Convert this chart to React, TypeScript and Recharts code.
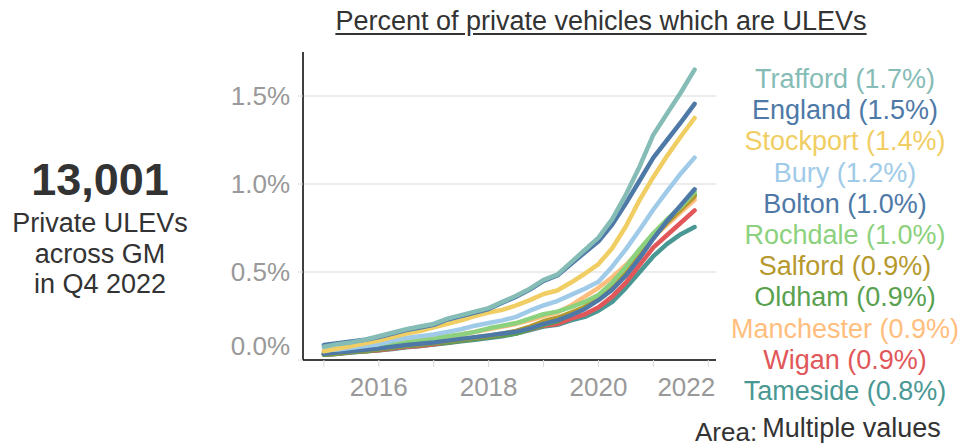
import { CartesianGrid, Line, LineChart, XAxis, YAxis } from "recharts";

// quarterly points, start of 2015 to Q4 2021 on the time axis
const quarters = [
  2015, 2015.25, 2015.5, 2015.75, 2016, 2016.25, 2016.5, 2016.75,
  2017, 2017.25, 2017.5, 2017.75, 2018, 2018.25, 2018.5, 2018.75,
  2019, 2019.25, 2019.5, 2019.75, 2020, 2020.25, 2020.5, 2020.75,
  2021, 2021.25, 2021.5, 2021.75,
];

// percent of private vehicles which are ULEVs
const trafford = [
  0.075, 0.09, 0.1, 0.115, 0.135, 0.155, 0.175, 0.19, 0.205, 0.235, 0.255, 0.275, 0.295, 0.33,
  0.365, 0.405, 0.455, 0.485, 0.555, 0.625, 0.695, 0.8, 0.94, 1.1, 1.28, 1.4, 1.52, 1.65,
];
const england = [
  0.085, 0.095, 0.105, 0.115, 0.13, 0.15, 0.17, 0.185, 0.2, 0.23, 0.25, 0.27, 0.29, 0.325,
  0.36, 0.4, 0.45, 0.48, 0.545, 0.61, 0.675, 0.77, 0.89, 1.02, 1.15, 1.25, 1.35, 1.455,
];
const stockport = [
  0.05, 0.065, 0.08, 0.095, 0.11, 0.13, 0.15, 0.165, 0.185, 0.205, 0.225, 0.25, 0.27, 0.285,
  0.31, 0.34, 0.375, 0.395, 0.44, 0.49, 0.545, 0.635, 0.76, 0.91, 1.04, 1.16, 1.27, 1.375,
];
const bury = [
  0.055, 0.06, 0.07, 0.08, 0.09, 0.11, 0.125, 0.135, 0.145, 0.16, 0.175, 0.195, 0.21, 0.225,
  0.245, 0.28, 0.31, 0.335, 0.37, 0.405, 0.445, 0.53, 0.63, 0.74, 0.855, 0.96, 1.06, 1.15,
];
const bolton = [
  0.035, 0.042, 0.05, 0.058, 0.065, 0.075, 0.085, 0.092, 0.1, 0.11, 0.12, 0.13, 0.14, 0.15,
  0.16, 0.18, 0.205, 0.225, 0.255, 0.29, 0.34, 0.4, 0.48, 0.58, 0.69, 0.79, 0.88, 0.97,
];
const rochdale = [
  0.04, 0.05, 0.06, 0.07, 0.08, 0.09, 0.1, 0.11, 0.12, 0.135, 0.145, 0.16, 0.18, 0.195,
  0.21, 0.235, 0.26, 0.275, 0.3, 0.33, 0.37, 0.44, 0.53, 0.63, 0.72, 0.8, 0.87, 0.955,
];
const salford = [
  0.035, 0.04, 0.048, 0.055, 0.062, 0.072, 0.082, 0.09, 0.098, 0.108, 0.118, 0.128, 0.138, 0.15,
  0.165, 0.19, 0.22, 0.24, 0.27, 0.3, 0.35, 0.42, 0.51, 0.61, 0.7, 0.78, 0.855, 0.93,
];
const oldham = [
  0.03, 0.035, 0.045, 0.05, 0.06, 0.07, 0.08, 0.085, 0.095, 0.1, 0.11, 0.12, 0.13, 0.14,
  0.15, 0.175, 0.2, 0.22, 0.26, 0.3, 0.355, 0.43, 0.52, 0.62, 0.71, 0.79, 0.865, 0.94,
];
const manchester = [
  0.045, 0.055, 0.065, 0.075, 0.085, 0.095, 0.105, 0.115, 0.125, 0.135, 0.145, 0.16, 0.175, 0.19,
  0.205, 0.225, 0.25, 0.27, 0.31, 0.36, 0.41, 0.47, 0.54, 0.62, 0.7, 0.77, 0.84, 0.91,
];
const wigan = [
  0.03, 0.035, 0.045, 0.05, 0.055, 0.065, 0.075, 0.08, 0.09, 0.1, 0.11, 0.12, 0.13, 0.14,
  0.155, 0.175, 0.195, 0.205, 0.235, 0.26, 0.3, 0.36, 0.44, 0.54, 0.64, 0.71, 0.78, 0.85,
];
const tameside = [
  0.03, 0.035, 0.042, 0.05, 0.055, 0.063, 0.072, 0.08, 0.088, 0.097, 0.106, 0.115, 0.125, 0.135,
  0.15, 0.17, 0.19, 0.2, 0.225, 0.245, 0.28, 0.33, 0.41, 0.5, 0.59, 0.66, 0.715, 0.755,
];

const areas = [
  "Trafford", "England", "Stockport", "Bury", "Bolton", "Rochdale",
  "Salford", "Oldham", "Manchester", "Wigan", "Tameside",
];
const latestLabels = [
  "1.7%", "1.5%", "1.4%", "1.2%", "1.0%", "1.0%", "0.9%", "0.9%", "0.9%", "0.9%", "0.8%",
];
const seriesValues = [
  trafford, england, stockport, bury, bolton, rochdale,
  salford, oldham, manchester, wigan, tameside,
];
const colors = [
  "#86bcb6", "#4e79a7", "#f1ce63", "#a0cbe8", "#4e79a7", "#8cd17d",
  "#b6992d", "#59a14f", "#ffbe7d", "#e15759", "#499894",
];

const yTicks = [0, 0.5, 1, 1.5];
const yearTicks = [2015, 2016, 2017, 2018, 2019, 2020, 2021, 2022];

const rows = quarters.map((q, i) => {
  const row: Record<string, number> = { q };
  areas.forEach((a, k) => {
    row[a] = seriesValues[k][i];
  });
  return row;
});

const font = '"Liberation Sans", Arial, sans-serif';

function YTick({ x, y, payload }: any) {
  // Tableau nudges the bottom label up so it stays clear of the axis
  const lift = payload.value === 0 ? 14 : 0;
  return (
    <text x={x} y={y - lift} dy="0.36em" textAnchor="end" fill="#999" fontSize={26} fontFamily={font}>
      {payload.value.toFixed(1)}%
    </text>
  );
}

function XTick({ x, y, payload }: any) {
  const v = payload.value;
  if (v % 2 !== 0) return <g />;
  const shift = v === 2022 ? -22 : 0;
  return (
    <text x={x + shift} y={y} dy="0.72em" textAnchor="middle" fill="#999" fontSize={26} fontFamily={font}>
      {v}
    </text>
  );
}

export default function App() {
  // draw bottom of legend first so Trafford sits on top
  const order = areas.map((_, i) => areas.length - 1 - i);
  return (
    <div
      style={{
        position: "absolute",
        left: 0,
        top: 0,
        width: 960,
        height: 446,
        background: "#fff",
        fontFamily: font,
        color: "#333",
      }}
    >
      <div
        style={{
          position: "absolute",
          left: 301,
          top: 6,
          width: 600,
          textAlign: "center",
          fontSize: 27,
          lineHeight: "31px",
          textDecoration: "underline",
          textUnderlineOffset: 3,
        }}
      >
        Percent of private vehicles which are ULEVs
      </div>

      <div
        style={{
          position: "absolute",
          left: 0,
          top: 156,
          width: 200,
          textAlign: "center",
          fontSize: 27,
          lineHeight: "30.5px",
        }}
      >
        <div style={{ fontSize: 45, fontWeight: 700, lineHeight: "48px", marginBottom: 4 }}>13,001</div>
        <div>Private ULEVs</div>
        <div>across GM</div>
        <div>in Q4 2022</div>
      </div>

      <div style={{ position: "absolute", left: 0, top: 0 }}>
        <LineChart width={960} height={446} data={rows} margin={{ top: 52, right: 244, bottom: 56, left: 223 }}>
          <CartesianGrid vertical={false} stroke="#e6e6e6" strokeWidth={1.5} horizontalValues={[0.5, 1, 1.5]} />
          <XAxis
            dataKey="q"
            type="number"
            domain={[2014.62, 2022.14]}
            ticks={yearTicks}
            height={30}
            stroke="#000"
            strokeWidth={1.5}
            tickLine={{ stroke: "#d9d9d9", strokeWidth: 1 }}
            tickSize={7}
            tickMargin={10}
            tick={<XTick />}
            interval={0}
          />
          <YAxis
            type="number"
            domain={[0, 1.75]}
            ticks={yTicks}
            width={80}
            stroke="#000"
            strokeWidth={1.5}
            tickLine={{ stroke: "#d9d9d9", strokeWidth: 1 }}
            tickSize={5}
            tickMargin={8}
            tick={<YTick />}
            interval={0}
          />
          {order.map((k) => (
            <Line
              key={areas[k]}
              type="linear"
              dataKey={areas[k]}
              stroke={colors[k]}
              strokeWidth={4.5}
              strokeLinejoin="round"
              strokeLinecap="round"
              dot={false}
              isAnimationActive={false}
            />
          ))}
        </LineChart>
      </div>

      <div
        style={{
          position: "absolute",
          left: 730,
          top: 64,
          width: 230,
          textAlign: "center",
          fontSize: 27,
          lineHeight: "31.2px",
        }}
      >
        {areas.map((a, i) => (
          <div key={a} style={{ color: colors[i], whiteSpace: "nowrap" }}>
            {a} ({latestLabels[i]})
          </div>
        ))}
      </div>

      <div style={{ position: "absolute", left: 695, top: 413, whiteSpace: "nowrap", color: "#333" }}>
        <span style={{ fontSize: 26, position: "relative", top: 4 }}>Area:</span>
        <span style={{ fontSize: 27, marginLeft: 5 }}>Multiple values</span>
      </div>
    </div>
  );
}
